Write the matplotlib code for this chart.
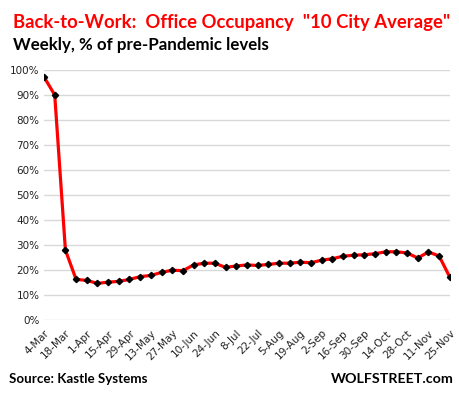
import matplotlib
matplotlib.use("Agg")
import matplotlib.pyplot as plt

# Office occupancy, weekly, % of pre-pandemic levels (Kastle Systems, 10 city avg)
weeks = ["4-Mar", "11-Mar", "18-Mar", "25-Mar", "1-Apr", "8-Apr", "15-Apr", "22-Apr",
         "29-Apr", "6-May", "13-May", "20-May", "27-May", "3-Jun", "10-Jun", "17-Jun",
         "24-Jun", "1-Jul", "8-Jul", "15-Jul", "22-Jul", "29-Jul", "5-Aug", "12-Aug",
         "19-Aug", "26-Aug", "2-Sep", "9-Sep", "16-Sep", "23-Sep", "30-Sep", "7-Oct",
         "14-Oct", "21-Oct", "28-Oct", "4-Nov", "11-Nov", "18-Nov", "25-Nov"]
occupancy = [97.3, 90.1, 27.9, 16.1, 15.7, 14.5, 15.0, 15.3, 16.1, 17.2,
             17.7, 18.9, 19.8, 19.6, 21.9, 22.6, 22.6, 20.9, 21.5, 21.9,
             21.7, 22.1, 22.6, 22.6, 23.0, 22.8, 23.8, 24.4, 25.4, 25.8,
             26.0, 26.4, 27.2, 27.2, 26.7, 24.7, 27.1, 25.5, 17.0]
y_ticks = list(range(0, 101, 10))

fig = plt.figure(figsize=(4.6, 3.94), dpi=100)
ax = fig.add_axes([0.0946, 0.189, 0.8844, 0.6326])

x = list(range(len(weeks)))
ax.plot(x, occupancy, color="#ff0000", linewidth=2.3, zorder=3)
ax.plot(x, occupancy, linestyle="none", marker="D", markersize=3.2,
        color="black", zorder=4)

ax.set_xlim(-0.05, len(weeks) - 0.95)
ax.set_ylim(0, 100)
ax.set_yticks(y_ticks)
ax.set_yticklabels([f"{v}%" for v in y_ticks], fontsize=7.5, color="#222222")
ax.set_xticks(x[::2])
ax.set_xticklabels(weeks[::2], rotation=45, ha="right", va="top",
                   rotation_mode="anchor", fontsize=7.5, color="#222222")
ax.tick_params(axis="both", length=0)
ax.tick_params(axis="y", pad=3)
ax.tick_params(axis="x", pad=6)
ax.grid(axis="y", color="#d9d9d9", linewidth=1)
ax.set_axisbelow(True)
for s in ax.spines.values():
    s.set_visible(False)

fig.text(0.028, 0.93, 'Back-to-Work:  Office Occupancy  "10 City Average"',
         color="#ff0000", fontsize=13.3, fontweight="bold", family="Lato")
fig.text(0.028, 0.872, "Weekly, % of pre-Pandemic levels",
         color="black", fontsize=12.2, fontweight="bold", family="Lato")
fig.text(0.02, 0.028, "Source: Kastle Systems",
         color="black", fontsize=9.6, fontweight="bold", family="Lato")
fig.text(0.987, 0.028, "WOLFSTREET.com",
         color="black", fontsize=10.3, fontweight="bold", family="Lato", ha="right")

fig.savefig("out.png", dpi=100)
